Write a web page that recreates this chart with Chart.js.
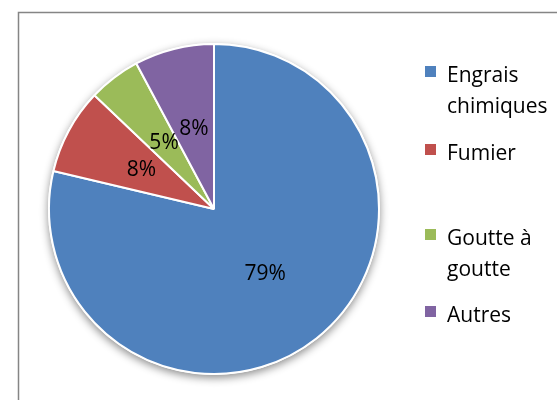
<!DOCTYPE html>
<html>
<head>
<meta charset="utf-8">
<script src="https://cdn.jsdelivr.net/npm/chart.js@4"></script>
<style>
  html, body { margin: 0; padding: 0; background: #fff; }
  canvas { display: block; }
</style>
</head>
<body>
<canvas id="pieChart" width="557" height="400"></canvas>
<script>
const categories = ["Engrais chimiques", "Fumier", "Goutte à goutte", "Autres"];
const legendLines = [["Engrais", "chimiques"], ["Fumier"], ["Goutte à", "goutte"], ["Autres"]];
const shares = [78.7, 8.4, 5.1, 7.8];
const colors = ["#4F81BD", "#C0504D", "#9BBB59", "#8064A2"];

const FONT = "21px 'Open Sans'";

// frame + soft shadow under the pie
const framePlugin = {
  id: "frame",
  beforeDraw(chart) {
    const ctx = chart.ctx;
    ctx.save();
    ctx.fillStyle = "#fff";
    ctx.fillRect(0, 0, chart.width, chart.height);
    ctx.strokeStyle = "#858585";
    ctx.lineWidth = 1.5;
    ctx.strokeRect(18.5, 12.5, 700, 500);
    ctx.restore();
  },
  beforeDatasetsDraw(chart) {
    const arc = chart.getDatasetMeta(0).data[0];
    if (!arc) return;
    const ctx = chart.ctx;
    ctx.save();
    ctx.shadowColor = "rgba(0,0,0,0.45)";
    ctx.shadowBlur = 8;
    ctx.shadowOffsetY = 3;
    ctx.fillStyle = "#fff";
    ctx.beginPath();
    ctx.arc(arc.x, arc.y, arc.outerRadius + 1, 0, Math.PI * 2);
    ctx.fill();
    ctx.restore();
  },
};

// percent labels inside slices
const percentPlugin = {
  id: "percent",
  afterDatasetsDraw(chart) {
    const ctx = chart.ctx;
    const data = chart.data.datasets[0].data;
    const total = data.reduce((a, b) => a + b, 0);
    ctx.save();
    ctx.font = FONT;
    ctx.fillStyle = "#000";
    ctx.textAlign = "center";
    ctx.textBaseline = "middle";
    chart.getDatasetMeta(0).data.forEach((arc, i) => {
      const mid = (arc.startAngle + arc.endAngle) / 2;
      const r = arc.outerRadius * 0.5;
      const x = arc.x + Math.cos(mid) * r;
      const y = arc.y + Math.sin(mid) * r;
      ctx.fillText(Math.round((data[i] / total) * 100) + "%", x, y);
    });
    ctx.restore();
  },
};

// legend on the right, with wrapped labels
const legendPlugin = {
  id: "sideLegend",
  afterDraw(chart) {
    const ctx = chart.ctx;
    const baselines = [82, 160, 245, 322];
    ctx.save();
    ctx.font = FONT;
    ctx.textAlign = "left";
    ctx.textBaseline = "alphabetic";
    legendLines.forEach((lines, i) => {
      const y = baselines[i];
      ctx.fillStyle = colors[i];
      ctx.fillRect(425, y - 16, 11, 11);
      ctx.fillStyle = "#000";
      lines.forEach((t, k) => ctx.fillText(t, 447, y + k * 31));
    });
    ctx.restore();
  },
};

new Chart(document.getElementById("pieChart").getContext("2d"), {
  type: "pie",
  data: {
    labels: categories,
    datasets: [
      {
        data: shares,
        backgroundColor: colors,
        borderColor: "#fff",
        borderWidth: 2,
      },
    ],
  },
  options: {
    responsive: false,
    animation: false,
    layout: { padding: { left: 48, top: 43, right: 177, bottom: 25 } },
    plugins: {
      legend: { display: false },
      tooltip: { enabled: false },
    },
  },
  plugins: [framePlugin, percentPlugin, legendPlugin],
});
</script>
</body>
</html>
